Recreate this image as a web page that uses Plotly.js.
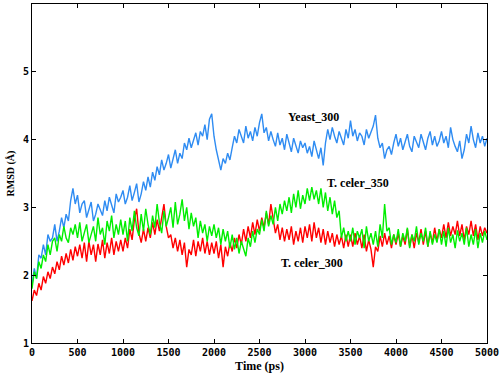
<!DOCTYPE html>
<html>
<head>
<meta charset="utf-8">
<script src="https://cdn.plot.ly/plotly-3.0.1.min.js"></script>
<style>html,body{margin:0;padding:0;background:#fff;}#chart{width:500px;height:376px;}</style>
</head>
<body>
<div id="chart"></div>
<script>
// Sampling interval of the trajectory (ps)
const step = 25;

const yeast300 = [
1.85, 2.1, 1.95, 2.3, 2.25, 2.45, 2.3, 2.6, 2.5, 2.55, 2.75, 2.5, 2.65, 2.85, 2.7, 2.9, 2.8, 3.1, 3.28, 3.05,
3.18, 2.92, 3.05, 3.1, 2.85, 2.95, 3.08, 2.8, 2.9, 3.05, 2.95, 2.88, 3.1, 2.95, 3.15, 3.02, 2.92, 3.2, 3.08, 3.15,
3.25, 3.05, 3.15, 3.32, 3.1, 3.22, 3.35, 3.08, 3.2, 3.38, 3.25, 3.45, 3.3, 3.52, 3.4, 3.6, 3.48, 3.7, 3.55, 3.65,
3.78, 3.58, 3.7, 3.85, 3.65, 3.8, 3.72, 3.95, 3.85, 4.02, 3.88, 3.98, 4.1, 3.92, 4.12, 4.05, 4.22, 4.0, 4.3, 4.38,
4.05, 3.85, 3.7, 3.55, 3.72, 3.65, 3.8, 3.7, 3.88, 4.05, 3.95, 4.15, 4.05, 3.95, 4.2, 4.02, 4.12, 3.98, 4.18, 4.05,
4.25, 4.38, 4.1, 4.18, 3.98, 4.12, 4.0, 3.9, 4.1, 3.92, 4.02, 3.85, 4.08, 3.95, 3.82, 4.02, 3.9, 3.8, 3.98, 3.88,
3.95, 3.8, 3.9, 3.75, 3.98, 3.85, 3.72, 3.88, 3.62, 3.95, 4.15, 4.0, 4.18, 4.05, 3.95, 4.12, 4.0, 3.92, 4.15, 4.02,
4.28, 4.05, 4.15, 3.98, 4.1, 4.05, 3.92, 4.15, 4.02, 4.1, 4.2, 4.36, 4.02, 3.88, 3.95, 3.72, 3.85, 3.9, 3.78, 3.95,
4.08, 3.9, 4.02, 3.85, 3.95, 4.08, 3.9, 3.82, 4.05, 3.95, 3.88, 4.08, 3.98, 3.85, 4.02, 4.12, 3.92, 4.05, 3.9, 3.98,
4.12, 3.95, 4.05, 3.88, 4.18, 4.0, 3.9, 3.82, 3.98, 3.72, 3.85, 4.08, 3.95, 4.2, 4.0, 3.88, 4.1, 3.95, 4.05, 3.9, 4.02
];

const celer350 = [
1.8, 2.05, 1.95, 2.2, 2.1, 2.3, 2.2, 2.45, 2.3, 2.5, 2.55, 2.35, 2.6, 2.5, 2.72, 2.55, 2.48, 2.7, 2.6, 2.75,
2.55, 2.78, 2.5, 2.65, 2.75, 2.48, 2.6, 2.72, 2.5, 2.85, 2.6, 2.7, 2.45, 2.8, 2.65, 2.88, 2.55, 2.75, 2.6, 2.82,
2.6, 2.8, 2.5, 2.85, 2.65, 2.95, 2.7, 2.58, 2.9, 2.65, 2.98, 2.75, 2.6, 2.88, 2.7, 3.05, 2.78, 2.62, 2.95, 2.72,
2.85, 3.0, 2.7, 3.08, 2.75, 2.9, 3.12, 2.8, 3.0, 2.68, 2.92, 2.72, 2.85, 2.55, 2.8, 2.62, 2.75, 2.5, 2.72, 2.58,
2.75, 2.55, 2.7, 2.45, 2.68, 2.5, 2.65, 2.4, 2.6, 2.38, 2.55, 2.32, 2.5, 2.4, 2.28, 2.55, 2.42, 2.65, 2.48, 2.68,
2.6, 2.82, 2.65, 2.95, 2.72, 2.88, 2.75, 3.0, 2.8, 3.05, 2.9, 3.1, 2.95, 3.15, 2.92, 3.2, 3.0, 3.25, 2.98, 3.18,
3.05, 3.28, 3.1, 3.3, 3.12, 3.25, 3.05, 3.28, 3.0, 3.22, 2.95, 3.15, 2.9, 3.1, 2.85, 2.95, 2.55, 2.7, 2.5, 2.65,
2.5, 2.7, 2.45, 2.65, 2.55, 2.68, 2.4, 2.72, 2.5, 2.62, 2.45, 2.65, 2.42, 2.75, 2.55, 3.05, 2.65, 2.7, 2.45, 2.6,
2.48, 2.68, 2.42, 2.62, 2.5, 2.7, 2.4, 2.6, 2.5, 2.72, 2.45, 2.62, 2.5, 2.7, 2.42, 2.65, 2.45, 2.6, 2.48, 2.68,
2.45, 2.65, 2.42, 2.7, 2.48, 2.6, 2.4, 2.66, 2.5, 2.62, 2.45, 2.7, 2.42, 2.6, 2.45, 2.68, 2.4, 2.62, 2.48, 2.65, 2.52
];

const celer300 = [
1.62, 1.78, 1.7, 1.88, 1.78, 1.98, 1.88, 2.05, 1.95, 2.12, 2.02, 2.2, 2.08, 2.28, 2.15, 2.32, 2.18, 2.38, 2.22, 2.42,
2.28, 2.45, 2.25, 2.48, 2.2, 2.5, 2.3, 2.45, 2.2, 2.46, 2.3, 2.52, 2.25, 2.48, 2.32, 2.55, 2.3, 2.5, 2.35, 2.52,
2.35, 2.55, 2.4, 2.68, 2.52, 2.82, 2.98, 2.62, 2.48, 2.68, 2.5, 2.7, 2.55, 2.78, 2.6, 2.82, 2.65, 2.88, 3.05, 2.72,
2.55, 2.6, 2.4, 2.55, 2.35, 2.52, 2.3, 2.48, 2.12, 2.38, 2.3, 2.52, 2.28, 2.5, 2.35, 2.55, 2.32, 2.5, 2.3, 2.48,
2.32, 2.5, 2.25, 2.45, 2.12, 2.42, 2.28, 2.48, 2.35, 2.55, 2.4, 2.6, 2.45, 2.68, 2.5, 2.72, 2.55, 2.78, 2.6, 2.82,
2.65, 2.85, 2.7, 2.92, 2.75, 3.05, 2.82, 2.62, 2.75, 2.52, 2.7, 2.5, 2.68, 2.52, 2.72, 2.45, 2.65, 2.5, 2.7, 2.48,
2.72, 2.55, 2.75, 2.5, 2.78, 2.55, 2.7, 2.48, 2.68, 2.45, 2.65, 2.48, 2.62, 2.42, 2.6, 2.45, 2.58, 2.4, 2.6, 2.42,
2.6, 2.42, 2.62, 2.45, 2.58, 2.4, 2.6, 2.35, 2.52, 2.38, 2.12, 2.42, 2.35, 2.58, 2.42, 2.62, 2.45, 2.58, 2.4, 2.6,
2.45, 2.62, 2.42, 2.58, 2.45, 2.68, 2.42, 2.6, 2.4, 2.62, 2.48, 2.68, 2.45, 2.65, 2.42, 2.62, 2.48, 2.7, 2.5, 2.68,
2.55, 2.75, 2.55, 2.78, 2.58, 2.72, 2.6, 2.8, 2.58, 2.75, 2.52, 2.72, 2.6, 2.8, 2.58, 2.75, 2.52, 2.72, 2.58, 2.7, 2.62
];

const seriesNames = ["Yeast_300", "T. celer_350", "T. celer_300"];
const xTicks = [0, 500, 1000, 1500, 2000, 2500, 3000, 3500, 4000, 4500, 5000];
const yTicks = [1, 2, 3, 4, 5, 6];

const times = yeast300.map((_, i) => i * step);

const mk = (y, color, name) => ({
  x: times, y: y, type: "scatter", mode: "lines", name: name,
  line: {color: color, width: 1.4}, hoverinfo: "skip"
});

const traces = [
  mk(yeast300, "#2f8cf2", seriesNames[0]),
  mk(celer300, "#ff0000", seriesNames[2]),
  mk(celer350, "#00ee00", seriesNames[1])
];

const tickFont = {family: "DejaVu Sans Mono", size: 10, color: "#000", weight: "bold"};
const annFont = {family: "Liberation Serif", size: 12, color: "#000", weight: "bold"};

const axisCommon = {
  showgrid: false, zeroline: false, showline: true, linecolor: "#000", linewidth: 1,
  mirror: "ticks", ticks: "inside", ticklen: 4, tickcolor: "#000", tickwidth: 1,
  tickfont: tickFont
};

const layout = {
  width: 500, height: 376,
  margin: {l: 32, r: 13, t: 4, b: 33},
  paper_bgcolor: "#fff", plot_bgcolor: "#fff",
  showlegend: false,
  xaxis: Object.assign({}, axisCommon, {
    range: [0, 5000], tickvals: xTicks, ticktext: xTicks.map(String),
    title: {text: "Time (ps)", font: {family: "Liberation Serif", size: 12, color: "#000", weight: "bold"}, standoff: 4}
  }),
  yaxis: Object.assign({}, axisCommon, {
    range: [1, 6], tickvals: yTicks, ticktext: yTicks.map(String),
    title: {text: "RMSD (Å)", font: {family: "Liberation Serif", size: 10, color: "#000", weight: "bold"}, standoff: 6}
  }),
  annotations: [
    {x: 3093, y: 4.34, text: seriesNames[0], showarrow: false, font: annFont},
    {x: 3577, y: 3.36, text: seriesNames[1], showarrow: false, font: annFont},
    {x: 3082, y: 2.18, text: seriesNames[2], showarrow: false, font: annFont}
  ]
};

Plotly.newPlot("chart", traces, layout, {displayModeBar: false, staticPlot: true});
</script>
</body>
</html>
